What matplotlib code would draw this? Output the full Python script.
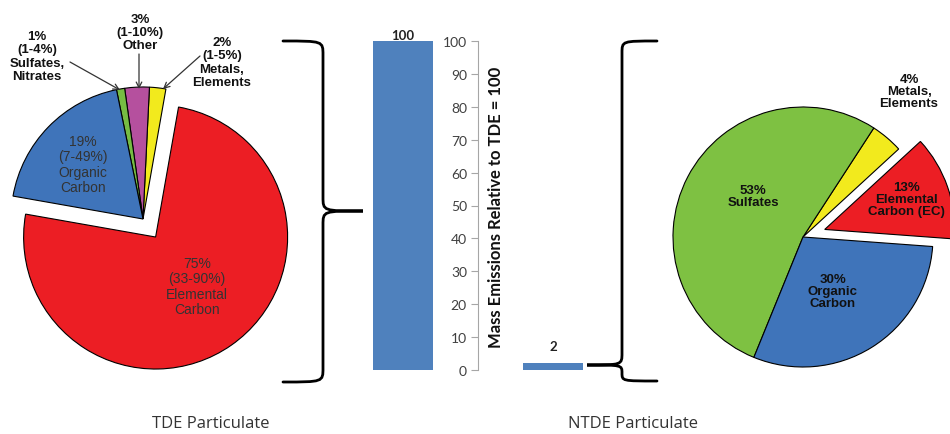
import matplotlib
matplotlib.use("Agg")
import matplotlib.pyplot as plt
from matplotlib.path import Path
from matplotlib.patches import PathPatch

# TDE particulate composition (percent), counterclockwise from the red/yellow edge
tde_names = ["Metals, Elements", "Other", "Sulfates, Nitrates", "Organic Carbon", "Elemental Carbon"]
tde_values = [2, 3, 1, 19, 75]
tde_colors = ["#F2EA1D", "#B5509E", "#76BC43", "#3F74BA", "#EC1E24"]

# NTDE particulate composition (percent)
ntde_names = ["Elemental Carbon (EC)", "Metals, Elements", "Sulfates", "Organic Carbon"]
ntde_values = [13, 4, 53, 30]
ntde_colors = ["#EC1E24", "#F2EA1D", "#7EC142", "#3F74BA"]

# mass emissions relative to TDE = 100
bar_names = ["TDE", "NTDE"]
bar_values = [100, 2]

W, H = 950, 435
fig = plt.figure(figsize=(W / 100, H / 100), dpi=100)


def Y(y):
    # image pixel row -> data y
    return H - y


# bar chart first, so the drawing layer sits above it
bx = fig.add_axes([328 / W, 64 / H, 300 / W, 329 / H])
bx.set_facecolor("none")
bx.bar([0, 1], bar_values, width=0.4, color="#4F81BD")
bx.set_xlim(-0.5, 1.5)
bx.set_ylim(0, 100)
bx.set_yticks(range(0, 101, 10))
bx.set_xticks([])
for s in ["top", "right", "bottom"]:
    bx.spines[s].set_visible(False)
bx.spines["left"].set_position(("data", 0.5))
bx.spines["left"].set_color("#A6A6A6")
bx.tick_params(axis="y", direction="out", length=5, color="#A6A6A6",
               labelsize=10, labelcolor="#404040", pad=3)
for lab in bx.get_yticklabels():
    lab.set_family("Lato")
offsets = [0, 8]
for i, v in enumerate(bar_values):
    bx.annotate(str(v), (i, v), xytext=(0, offsets[i]), textcoords="offset points",
                ha="center", va="bottom", fontsize=9.5, fontweight="bold",
                family="Lato", color="#222222")

ax = fig.add_axes([0, 0, 1, 1])
wp = dict(edgecolor="black", linewidth=0.8)

ax.pie(tde_values, colors=tde_colors, startangle=80, counterclock=True,
       center=(143, Y(220)), radius=132, explode=[0, 0, 0, 0, 22],
       wedgeprops=wp)
ax.pie(ntde_values, colors=ntde_colors, startangle=-4.2, counterclock=True,
       center=(803, Y(238)), radius=130, explode=[23, 0, 0, 0],
       wedgeprops=wp)
ax.set_xlim(0, W)
ax.set_ylim(0, H)
ax.set_aspect("auto")
ax.axis("off")

# labels inside left pie
inner = dict(ha="center", va="center", fontsize=10, color="#333333",
             family="Liberation Sans", linespacing=1.15)
ax.text(197, Y(287), "75%\n(33-90%)\nElemental\nCarbon", **inner)
ax.text(83, Y(165), "19%\n(7-49%)\nOrganic\nCarbon", **inner)

# callouts above left pie
outer = dict(ha="center", va="center", fontsize=9.5, fontweight="bold",
             color="#111111", family="Liberation Sans", linespacing=1.15)
arr = dict(arrowstyle="->", color="#333333", lw=0.9, shrinkA=0, shrinkB=0)
ax.text(37, Y(57), "1%\n(1-4%)\nSulfates,\nNitrates", **outer)
ax.text(140, Y(33), "3%\n(1-10%)\nOther", **outer)
ax.text(222, Y(63), "2%\n(1-5%)\nMetals,\nElements", **outer)
ax.annotate("", xy=(120, Y(91)), xytext=(70, Y(63)), arrowprops=arr)
ax.annotate("", xy=(139, Y(90)), xytext=(139, Y(55)), arrowprops=arr)
ax.annotate("", xy=(163, Y(90)), xytext=(200, Y(57)), arrowprops=arr)

# labels on right pie
rl = dict(ha="center", va="center", fontsize=9.5, fontweight="bold",
          color="#111111", family="Liberation Sans", linespacing=1.05)
ax.text(753, Y(197), "53%\nSulfates", **rl)
ax.text(833, Y(292), "30%\nOrganic\nCarbon", **rl)
ax.text(906, Y(200), "13%\nElemental\nCarbon (EC)", **rl)
ax.text(909, Y(92), "4%\nMetals,\nElements", **rl)


def brace(xe, xm, xt, yt, yb, ytip, r=14):
    r1 = min(r, (ytip - yt) / 2)
    r2 = min(r, (yb - ytip) / 2)
    verts = [
        (xe, yt), (xm, yt), (xm, yt), (xm, yt + r1),
        (xm, ytip - r1),
        (xm, ytip), (xm, ytip), (xt, ytip),
        (xm, ytip), (xm, ytip), (xm, ytip + r2),
        (xm, yb - r2),
        (xm, yb), (xm, yb), (xe, yb),
    ]
    codes = [Path.MOVETO, Path.CURVE4, Path.CURVE4, Path.CURVE4,
             Path.LINETO,
             Path.CURVE4, Path.CURVE4, Path.CURVE4,
             Path.CURVE4, Path.CURVE4, Path.CURVE4,
             Path.LINETO,
             Path.CURVE4, Path.CURVE4, Path.CURVE4]
    verts = [(x, Y(y)) for x, y in verts]
    ax.add_patch(PathPatch(Path(verts, codes), fill=False, lw=2,
                           edgecolor="black", capstyle="round"))


brace(283, 323, 363, 42, 383, 212)
brace(657, 622, 587, 42, 382, 366, r=12)

# vertical axis title
ax.text(496, Y(207), "Mass Emissions Relative to TDE = 100", rotation=90,
        ha="center", va="center", fontsize=12, fontweight="bold",
        family="Lato", color="#111111")

# panel titles
ax.text(211, Y(424), "TDE Particulate", ha="center", va="center",
        fontsize=12, family="Open Sans", color="#333333")
ax.text(633, Y(424), "NTDE Particulate", ha="center", va="center",
        fontsize=12, family="Open Sans", color="#333333")

fig.savefig("out.png", dpi=100)
